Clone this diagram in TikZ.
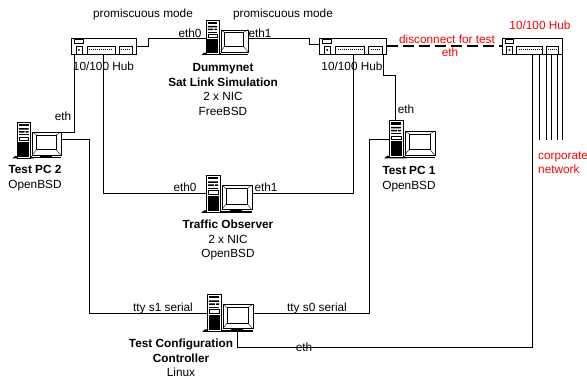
\documentclass[tikz,border=0pt]{standalone}
\usepackage{fontspec}
\setmainfont{Liberation Sans}
\tikzset{
  lab/.style={inner sep=0pt,align=center,font=\fontsize{11.8}{14.4}\selectfont},
  redlab/.style={lab,text=red},
  wire/.style={draw=black,line width=1pt},
  cut/.style={draw=black,line width=2pt,dash pattern=on 11pt off 5pt},
  part/.style={draw=black,line width=0.6pt,fill=white,inner sep=0pt,rectangle}
}
\newcommand{\bt}[1]{\textbf{#1}}
\newcommand{\hubunit}[5]{
 \draw (#2,#3) node[part,anchor=north west,minimum width=#4pt,minimum height=#5pt] (#1) {};
 \begin{scope}[shift={(#2,#3)},xscale={#4/65},line width=0.6pt]
  \draw (3.5,1.5) rectangle (12,5.5);
  \draw (5,8) rectangle (11,16);
  \draw (16,8) rectangle (44,16);
  \draw (48,8) rectangle (61,16);
  \draw[densely dotted,line width=1pt] (18,12) -- (42,12);
  \draw[densely dotted,line width=1pt] (50,12) -- (59,12);
  \fill (8,12) circle (1pt);
 \end{scope}
}
\newcommand{\pcunit}[4]{
 \begin{scope}[shift={(#2,#3)},scale=#4,transform shape]
  \fill (-5,38) -- (-2,35.5) -- (15,35.5) -- (18,38) -- cycle;
  \draw (0,0) node[part,anchor=north west,minimum width=14pt,minimum height=37pt] (#1t) {};
  \fill (1.5,21) rectangle (12.5,36);
  \fill (2,2) rectangle (12,4.5);
  \fill (2,6.5) rectangle (12,8) (2,9.5) rectangle (8,11) (9,9.5) rectangle (12,11);
  \fill (2,13) rectangle (12,14);
  \draw[line width=0.5pt] (2,15.5) rectangle (12,19);
  \fill (24,34) rectangle (36,36);
  \fill (16,36.5) rectangle (46,38);
  \draw (16,10.5) node[part,anchor=north west,minimum width=29.5pt,minimum height=24pt] (#1m) {};
  \draw[line width=0.7pt] (20,13.5) rectangle (41,29);
  \draw[line width=0.4pt] (16,10.5) -- (20,13.5) (45.5,10.5) -- (41,13.5) (16,34.5) -- (20,29) (45.5,34.5) -- (41,29);
 \end{scope}
}
\begin{document}
\begin{tikzpicture}[x=1pt,y=-1pt]
 \useasboundingbox (0,0) rectangle (587,379);

 \coordinate (J1) at (148,38.5);
 \coordinate (J2) at (309,45);
 \coordinate (J3) at (89,0);
 \coordinate (J4) at (0,314);
 \coordinate (J5) at (395,76);
 \coordinate (J6) at (369,0);
 \coordinate (J7) at (532,347.5);

 \hubunit{hubA}{71}{38}{65}{16}
 \hubunit{hubB}{319}{38}{67}{16}
 \hubunit{hubC}{502}{38}{60}{16}

 \pcunit{dummy}{206}{20}{0.92}
 \pcunit{pcone}{389}{120.5}{1}
 \pcunit{pctwo}{17}{122}{0.96}
 \pcunit{observer}{206}{175}{1}
 \pcunit{config}{207}{294}{1}

 \draw[wire] (hubA.east) -| (J1) -- (dummyt.west |- J1);
 \draw[wire] (dummym.east |- J1) -| (J2) -- (hubB.west |- J2);
 \draw[wire] ([xshift=3pt]hubA.south west) |- (pctwom.north east);
 \draw[wire] ([yshift=4pt]pctwom.east) -| (J3 |- J4) -- (configt.west |- J4);
 \draw[wire] ([xshift=32pt]hubA.south west) |- (observert.west);
 \draw[wire] (observerm.east |- observert.east) -| ([xshift=34pt]hubB.south west);
 \draw[wire] ([xshift=64pt]hubB.south west) |- (J5) -- (pconet.north -| J5);
 \draw[wire] (pconet.west) -| (J6 |- J4) -- (configm.east |- J4);
 \draw[wire] ([xshift=23pt]configt.south) |- (J7) -- (hubC.south -| J7);
 \draw[cut] (hubB.east) -- (hubC.west);

 \foreach \px/\py in {37/cA,44/cB,49/cC,55/cD,60/cE}{
  \draw (hubC.south west) ++(\px,0) coordinate (\py);
  \draw[wire] (\py) -- (\py |- 0,140);
 }

 \draw (143,14) node[lab] (promA) {promiscuous mode};
 \draw (283,14) node[lab] (promB) {promiscuous mode};
 \draw (190,33) node[lab] (ethzA) {eth0};
 \draw (260,33) node[lab] (ethoA) {eth1};
 \draw (103.5,66) node[lab] (hubAlab) {10/100 Hub};
 \draw (352,66) node[lab] (hubBlab) {10/100 Hub};
 \draw (223,89.5) node[lab] (dummylab) {\bt{Dummynet}\\\bt{Sat Link Simulation}\\2 x NIC\\FreeBSD};
 \draw (63,116) node[lab] (ethC) {eth};
 \draw (406,109) node[lab] (ethD) {eth};
 \draw (35,178) node[lab] (pctwolab) {\bt{Test PC 2}\\OpenBSD};
 \draw (409,179) node[lab] (pconelab) {\bt{Test PC 1}\\OpenBSD};
 \draw (185,187) node[lab] (ethzB) {eth0};
 \draw (266,187) node[lab] (ethoB) {eth1};
 \draw (228,240) node[lab] (observerlab) {\bt{Traffic Observer}\\2 x NIC\\OpenBSD};
 \draw (163,308) node[lab] (ttyA) {tty s1 serial};
 \draw (317,308) node[lab] (ttyB) {tty s0 serial};
 \draw (181,358) node[lab] (configlab) {\bt{Test Configuration}\\\bt{Controller}\\Linux};
 \draw (304,347) node[lab] (ethE) {eth};
 \draw (540,25) node[redlab] (hubClab) {10/100 Hub};
 \draw (447,39) node[redlab] (cutlab) {disconnect for test};
 \draw (450,52) node[redlab] (ethF) {eth};
 \draw (538,163) node[redlab,anchor=west,align=left] (corplab) {corporate\\network};
\end{tikzpicture}
\end{document}
